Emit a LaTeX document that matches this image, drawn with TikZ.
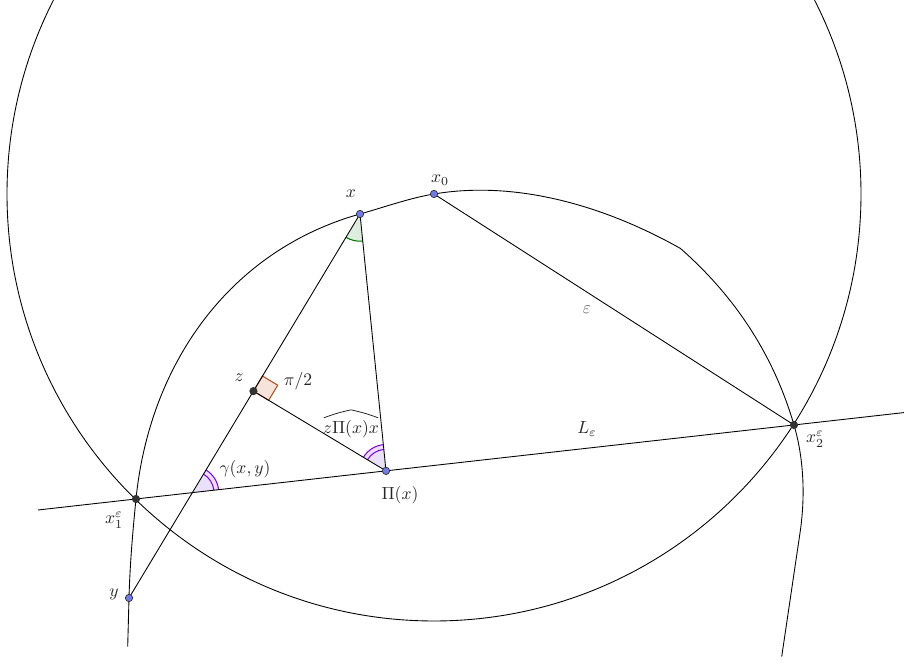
\documentclass[tikz,border=0pt]{standalone}
\usetikzlibrary{calc,angles}
\definecolor{ptblue}{RGB}{112,122,232}
\definecolor{ptdark}{RGB}{51,51,51}
\definecolor{angpurple}{RGB}{127,0,255}
\definecolor{angpfill}{RGB}{234,224,250}
\definecolor{anggreen}{RGB}{0,120,0}
\definecolor{anggfill}{RGB}{222,238,222}
\definecolor{rabrown}{RGB}{180,80,30}
\definecolor{rafill}{RGB}{246,228,220}
\begin{document}
\begin{tikzpicture}[x=0.02cm,y=0.02cm,
  curve/.style={black, line width=0.5pt},
  seg/.style={black, line width=0.5pt},
  bluept/.style={circle, fill=ptblue, draw=ptdark, line width=0.4pt, inner sep=0pt, minimum size=4.2pt},
  darkpt/.style={circle, fill=ptdark, draw=ptdark, inner sep=0pt, minimum size=4.2pt},
  lab/.style={text=black!85, inner sep=0pt},
  arcp/.style={draw=angpurple, line width=0.6pt}]
\useasboundingbox (0,0) rectangle (904,665);
\clip (0,0) rectangle (904,665);
% key points (y axis upward)
\coordinate (X0) at (434,471);
\coordinate (X) at (360,451);
\coordinate (Y) at (129,67);
\coordinate (Q) at (386,194.1);
\coordinate (X1) at (136,166);
\coordinate (X2) at (794,240);
\coordinate (K) at (680.5,416.5);
\coordinate (R) at (800,132);
\coordinate (Cend1) at (127.7,18.3);
\coordinate (Cend2) at (781.7,8.3);
\coordinate (Lleft) at (38,155);
\coordinate (Lright) at (904,252.4);
\coordinate (Z) at ($(X)!(Q)!(Y)$);
\coordinate (G) at (intersection of X--Y and Lleft--Lright);
% angle at x
\pic[fill=anggfill, draw=anggreen, line width=0.6pt, angle radius=15.5pt] {angle = Z--X--Q};
% angle at Pi(x)
\pic[fill=angpfill, angle radius=15pt] {angle = X--Q--Z};
\pic[arcp, angle radius=15pt] {angle = X--Q--Z};
\pic[arcp, angle radius=12.3pt] {angle = X--Q--Z};
% angle gamma
\pic[fill=angpfill, angle radius=15pt] {angle = X2--G--X};
\pic[arcp, angle radius=15pt] {angle = X2--G--X};
\pic[arcp, angle radius=12.3pt] {angle = X2--G--X};
% right angle square at z
\filldraw[fill=rafill, draw=rabrown, line width=0.6pt] (Z) -- ($(Z)!0.0852!(X)$) -- ($(Z)!0.0852!(X)+(Z)!0.1148!(Q)-(Z)$) -- ($(Z)!0.1148!(Q)$) -- cycle;
% big circle centred at x0
\draw[curve] (X0) circle [radius=427];
% the curve through y, x1, x, x0, x2
\draw[curve] (Cend1) -- (Y)
  .. controls (129.9,100) and (132.7,133.2) .. (X1)
  .. controls (149.6,301) and (229.3,414.3) .. (X)
  .. controls (384,457.7) and (409,466.8) .. (X0)
  .. controls (517.8,485.1) and (606.5,458.2) .. (K)
  .. controls (729.3,373.6) and (771.6,316.8) .. (X2)
  .. controls (804.1,205.4) and (805.3,167.6) .. (R)
  -- (Cend2);
% lines
\draw[seg] (Lleft) -- (Lright);
\draw[seg] (X0) -- (X2);
\draw[seg] (X) -- (Y);
\draw[seg] (X) -- (Q);
\draw[seg] (Z) -- (Q);
% points
\node[bluept] (px) at (X) {};
\node[bluept] (px0) at (X0) {};
\node[bluept] (py) at (Y) {};
\node[bluept] (pq) at (Q) {};
\node[darkpt] (pz) at (Z) {};
\node[darkpt] (px1) at (X1) {};
\node[darkpt] (px2) at (X2) {};
% labels
\node[lab] (lx) at (351,471) {$x$};
\node[lab] (lx0) at (440,485) {$x_0$};
\node[lab] (lz) at (239,287) {$z$};
\node[lab] (lpi2) at (298,284) {$\pi/2$};
\node[lab] (lhat) at (351,236) {$z\Pi(x)x$};
\draw[black!85, line width=0.45pt] ($(lhat.north west)+(1,2)$) to[bend left=4] ($(lhat.north)+(0,10)$) to[bend left=4] ($(lhat.north east)+(-1,2)$);
\node[lab] (lgam) at (245,196) {$\gamma(x,y)$};
\node[lab] (lPi) at (400,170) {$\Pi(x)$};
\node[lab] (lL) at (587,236) {$L_\varepsilon$};
\node[lab] (lx1) at (114,145) {$x_1^\varepsilon$};
\node[lab] (lx2) at (815,226) {$x_2^\varepsilon$};
\node[lab] (ly) at (114,71) {$y$};
\node[lab, text=black!60] (leps) at (587,355) {$\varepsilon$};
\end{tikzpicture}
\end{document}
